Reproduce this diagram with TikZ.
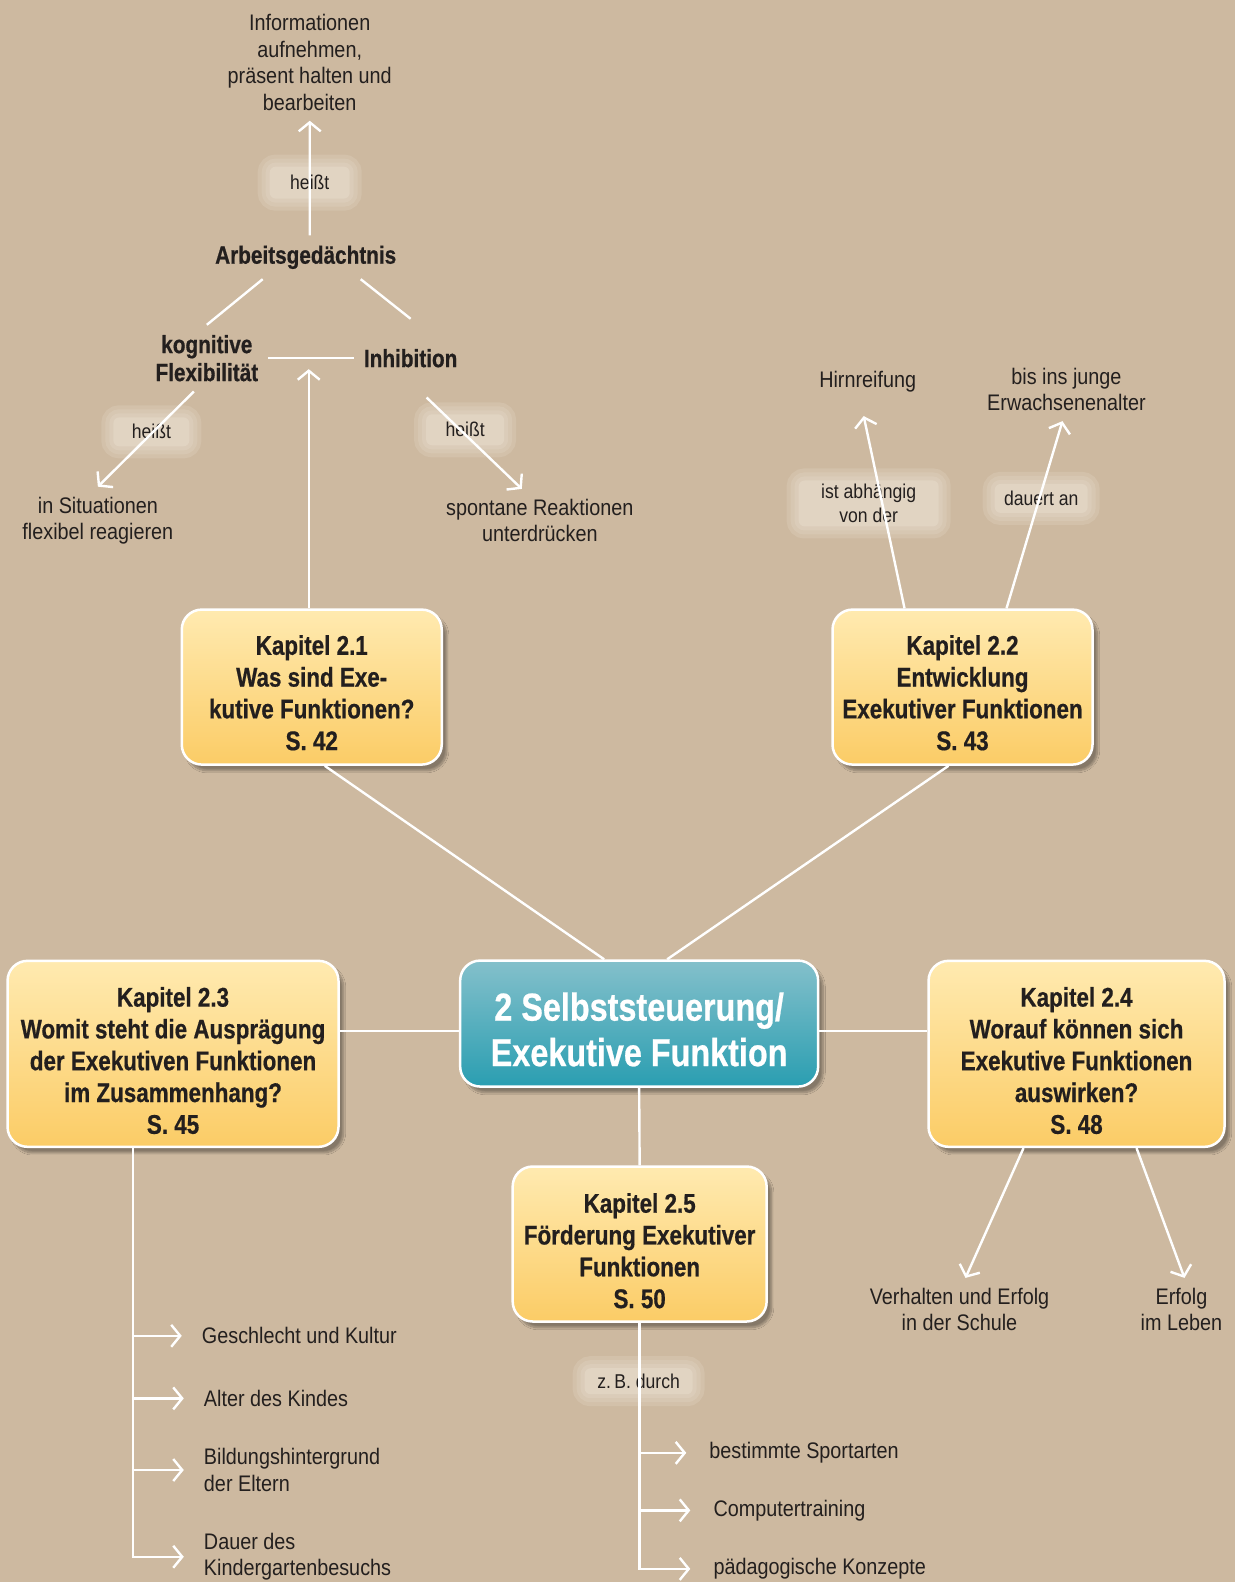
\documentclass[tikz,border=0pt]{standalone}
\usepackage{fontspec}
\setmainfont{Liberation Sans}[FakeStretch=0.88]
\newfontfamily\capfont{Liberation Sans}[FakeStretch=0.83, FakeBold=0.6]
\usepackage{tikz}
\usetikzlibrary{arrows.meta, positioning, calc, shadows.blur}
\definecolor{mybg}{RGB}{205,185,160}
\definecolor{myglow}{RGB}{225,212,194}
\definecolor{myink}{RGB}{35,31,30}
\definecolor{boxtop}{RGB}{255,234,176}
\definecolor{boxbot}{RGB}{251,204,102}
\definecolor{hubtop}{RGB}{132,192,203}
\definecolor{hubbot}{RGB}{42,158,177}
\newcommand{\topstrut}[1]{\rule{0pt}{#1}}
\tikzset{
  chapbox/.style={rectangle, draw=white, top color=boxtop, bottom color=boxbot,
    align=center, font=\fontsize{27}{31.8}\capfont\bfseries, text=myink,
    rounded corners=20pt, line width=2.5pt,
    blur shadow={shadow xshift=5pt, shadow yshift=-6pt, shadow blur steps=10, shadow opacity=35}},
  hubbox/.style={chapbox, top color=hubtop, bottom color=hubbot, text=white,
    font=\fontsize{39}{45.5}\capfont\bfseries},
  note/.style={align=center, font=\fontsize{22.5}{26.5}\selectfont, text=myink, inner sep=10pt},
  boldnote/.style={note, font=\fontsize{25}{28}\capfont\bfseries},
  listnote/.style={note, align=left, anchor=west, inner sep=2pt},
  tag/.style={rectangle, fill=myglow, rounded corners=6pt,
    preaction={draw=myglow, draw opacity=0.3, line width=24pt},
    preaction={draw=myglow, draw opacity=0.35, line width=16pt},
    preaction={draw=myglow, draw opacity=0.45, line width=8pt},
    font=\fontsize{20}{24}\selectfont, text=myink, align=center},
  line/.style={draw=white, line width=2.4pt},
  arrow/.style={line, -{Straight Barb[length=9pt, width=22pt, line width=2.4pt]}}
}

\begin{document}
\begin{tikzpicture}[x=1.009pt, y=-1.009pt]
  \fill[mybg] (0,0) rectangle (1224,1568);
  \useasboundingbox (0,0) rectangle (1224,1568);

  % labels on the connectors
  \node[tag, minimum width=80pt, minimum height=32pt] (t1) at (307,181) {heißt};
  \node[tag, minimum width=76pt, minimum height=29pt] (t2) at (150,428) {heißt};
  \node[tag, minimum width=78pt, minimum height=31pt] (t3) at (461,426) {heißt};
  \node[tag, minimum width=140pt, minimum height=46pt] (t4) at (861,499) {ist abhängig\\von der};
  \node[tag, minimum width=93pt, minimum height=29pt] (t5) at (1032,494) {dauert an};
  \node[tag, minimum width=108pt, minimum height=26pt] (t6) at (633,1369) {z.\,B. durch};

  % chapter boxes
  \node[hubbox, minimum width=358pt, minimum height=126pt] (hub) at (633.5,1014.5) {\topstrut{40pt}2 Selbststeuerung/\\Exekutive Funktion};
  \node[chapbox, minimum width=260pt, minimum height=155pt] (k21) at (309,681) {\topstrut{31pt}Kapitel 2.1\\Was sind Exe-\\kutive Funktionen?\\S. 42};
  \node[chapbox, minimum width=260pt, minimum height=155pt] (k22) at (954,681) {\topstrut{31pt}Kapitel 2.2\\Entwicklung\\Exekutiver Funktionen\\S. 43};
  \node[chapbox, minimum width=331pt, minimum height=186pt] (k23) at (171.5,1044.5) {\topstrut{33pt}Kapitel 2.3\\Womit steht die Ausprägung\\der Exekutiven Funktionen\\im Zusammenhang?\\S. 45};
  \node[chapbox, minimum width=296pt, minimum height=186pt] (k24) at (1067,1044.5) {\topstrut{33pt}Kapitel 2.4\\Worauf können sich\\Exekutive Funktionen\\auswirken?\\S. 48};
  \node[chapbox, minimum width=254pt, minimum height=155pt] (k25) at (634,1233) {\topstrut{33pt}Kapitel 2.5\\Förderung Exekutiver\\Funktionen\\S. 50};

  % Kapitel 2.1
  \node[note] (info) at (307,62) {Informationen\\aufnehmen,\\präsent halten und\\bearbeiten};
  \node[boldnote] (arb) at (303,255) {Arbeitsgedächtnis};
  \node[boldnote] (kog) at (205,355) {kognitive\\Flexibilität};
  \node[boldnote] (inh) at (407,355) {Inhibition};
  \node[note] (situ) at (97,516) {in Situationen\\flexibel reagieren};
  \node[note] (spont) at (535,516) {spontane Reaktionen\\unterdrücken};
  \coordinate (fork) at ($(kog)!0.5!(inh)$);

  % Kapitel 2.2 and 2.4
  \node[note] (hirn) at (860,378) {Hirnreifung};
  \node[note] (erw) at (1057,386) {bis ins junge\\Erwachsenenalter};
  \node[note] (verh) at (951,1298) {Verhalten und Erfolg\\in der Schule};
  \node[note] (erf) at (1171,1298) {Erfolg\\im Leben};

  % lists
  \node[listnote] (g1) at (198,1324) {Geschlecht und Kultur};
  \node[listnote] (g2) at (200,1386) {Alter des Kindes};
  \node[listnote] (g3) at (200,1457) {Bildungshintergrund\\der Eltern};
  \node[listnote] (g4) at (200,1543) {Dauer des\\Kindergartenbesuchs};
  \node[listnote] (s1) at (701,1440) {bestimmte Sportarten};
  \node[listnote] (s2) at (705,1497) {Computertraining};
  \node[listnote] (s3) at (705,1555) {pädagogische Konzepte};

  % connectors
  \draw[arrow] ([xshift=4pt]arb.north) -- (info.south);
  \draw[line] ([xshift=-43pt]arb.south) -- (kog.north);
  \draw[line] ([xshift=55pt]arb.south) -- ([yshift=20pt]inh.north);
  \draw[line] (kog) -- (inh);
  \draw[arrow] (k21.north -| fork) -- ([yshift=-11pt]fork);
  \draw[arrow] ([xshift=-13pt]kog.south) -- (situ.north);
  \draw[arrow] ([shift={(16pt,-20pt)}]inh.south) -- ([xshift=-18pt]spont.north);

  \draw[arrow] ([xshift=-58pt]k22.north) -- ([shift={(-4pt,-14pt)}]hirn.south);
  \draw[arrow] ([xshift=44pt]k22.north) -- ([xshift=-4pt]erw.south);

  \draw[line] ([xshift=13pt]k21.south) -- ([xshift=-35pt]hub.north);
  \draw[line] ([xshift=-14pt]k22.south) -- ([xshift=28pt]hub.north);
  \coordinate (hubw) at ([yshift=-7.5pt]hub.west);
  \coordinate (hube) at ([yshift=-7.5pt]hub.east);
  \draw[line] (hubw) -- (hubw -| k23.east);
  \draw[line] (hube) -- (hube -| k24.west);
  \draw[line] (hub.south) -- (k25.north);

  \draw[arrow] ([xshift=-53pt]k24.south) -- ([xshift=6pt]verh.north);
  \draw[arrow] ([xshift=60pt]k24.south) -- ([xshift=3pt]erf.north);

  \coordinate (lstem) at ([xshift=-40pt]k23.south);
  \draw[arrow] (lstem) |- ([xshift=-18pt]g4.west);
  \foreach \g in {g1,g2,g3}
    \draw[arrow] (lstem |- \g.west) -- ([xshift=-18pt]\g.west);

  \draw[arrow] (k25.south) |- ([xshift=-21pt]s3.west);
  \foreach \s in {s1,s2}
    \draw[arrow] (k25.south |- \s.west) -- ([xshift=-21pt]\s.west);
\end{tikzpicture}
\end{document}
